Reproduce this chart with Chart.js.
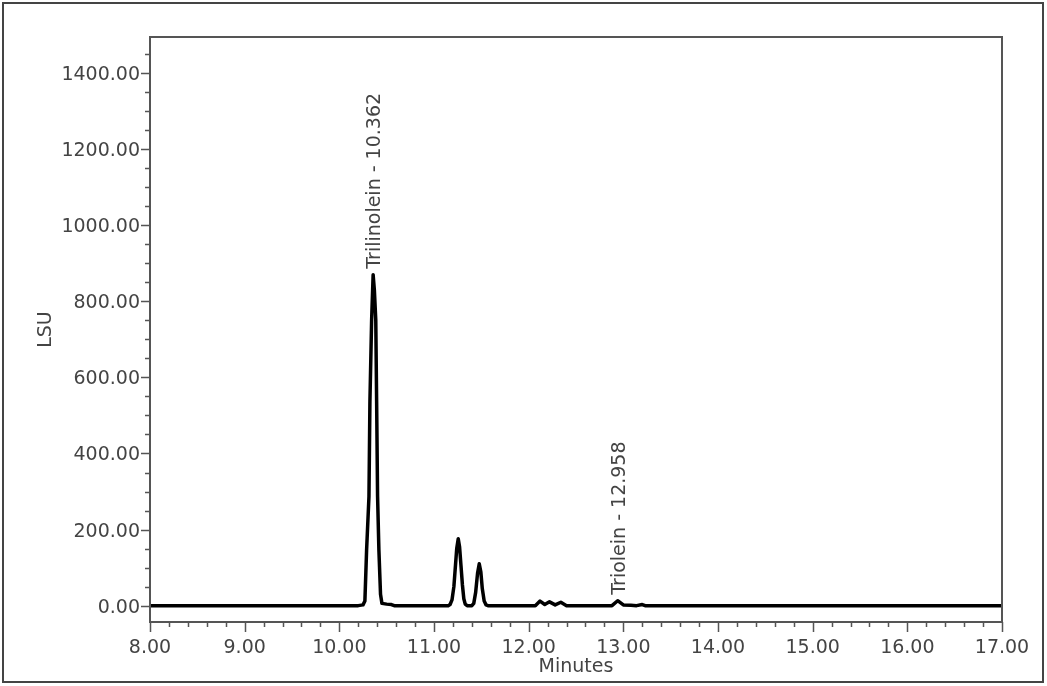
<!DOCTYPE html>
<html>
<head>
<meta charset="utf-8">
<script src="https://cdn.jsdelivr.net/npm/chart.js@4.4.1/dist/chart.umd.min.js"></script>
<style>
  html, body { margin: 0; padding: 0; background: #fff; }
  #wrap { position: relative; width: 1047px; height: 686px; }
</style>
</head>
<body>
<div id="wrap"><canvas id="c"></canvas></div>
<script>
// ---- data ----
const times  = [8.00, 10.20, 10.25, 10.27, 10.288, 10.313, 10.323, 10.341, 10.357, 10.37, 10.385, 10.394, 10.404, 10.418, 10.435, 10.45, 10.50, 10.55, 10.58,
                11.15, 11.17, 11.19, 11.21, 11.225, 11.24, 11.256, 11.27, 11.285, 11.30, 11.315, 11.33, 11.35,
                11.40, 11.42, 11.44, 11.46, 11.478, 11.495, 11.51, 11.53, 11.55, 11.57,
                12.07, 12.12, 12.17, 12.22, 12.28, 12.34, 12.40,
                12.88, 12.94, 13.00, 13.08, 13.14, 13.20, 13.23, 17.00];
const signal = [0, 0, 2, 12, 146, 287, 536, 750, 870, 830, 750, 536, 287, 146, 30, 6, 4, 3, 0,
                0, 3, 15, 50, 100, 150, 176, 155, 105, 55, 18, 4, 0,
                0, 6, 35, 85, 110, 88, 45, 12, 2, 0,
                0, 12, 3, 10, 2, 9, 0,
                0, 13, 2, 1, 0, 3, 0, 0];

const peakNames  = ["Trilinolein - 10.362", "Triolein - 12.958"];
const peakTimes  = [10.362, 12.958];
const peakLevels = [870, 13];

const yMajorTicks = [0, 200, 400, 600, 800, 1000, 1200, 1400];
const xMajorTicks = [8, 9, 10, 11, 12, 13, 14, 15, 16, 17];
const yMinorStep = 50;
const xMinorStep = 0.2;

const FONT = "'DejaVu Sans', Verdana, sans-serif";
const FS = 19;
const TXT = '#444';
const AX = '#555';

const decor = {
  id: 'decor',
  afterDraw(chart) {
    const ctx = chart.ctx;
    const a = chart.chartArea;
    const xs = chart.scales.x, ys = chart.scales.y;
    ctx.save();
    // outer border
    ctx.strokeStyle = '#444';
    ctx.lineWidth = 2;
    ctx.strokeRect(3, 3, 1040, 679);
    // plot frame
    ctx.strokeStyle = AX;
    ctx.lineWidth = 2;
    ctx.strokeRect(a.left, a.top, a.right - a.left, a.bottom - a.top);
    // y ticks
    ctx.lineWidth = 1.5;
    ctx.beginPath();
    for (let v = 0; v <= ys.max + 1e-6; v += yMinorStep) {
      const p = Math.round(ys.getPixelForValue(v)) + 0.5;
      if (p <= a.top + 1) continue;
      const len = yMajorTicks.includes(v) ? 9 : 5;
      ctx.moveTo(a.left - len, p);
      ctx.lineTo(a.left, p);
    }
    // x ticks
    const n = Math.round((xs.max - xs.min) / xMinorStep);
    for (let i = 0; i <= n; i++) {
      const v = xs.min + i * xMinorStep;
      const p = Math.round(xs.getPixelForValue(v)) + 0.5;
      const major = xMajorTicks.some(t => Math.abs(t - v) < 1e-6);
      const len = major ? 10 : 5;
      ctx.moveTo(p, a.bottom);
      ctx.lineTo(p, a.bottom + len);
    }
    ctx.stroke();
    // peak labels
    ctx.fillStyle = TXT;
    ctx.font = FS + 'px ' + FONT;
    ctx.textAlign = 'left';
    ctx.textBaseline = 'middle';
    peakNames.forEach((name, i) => {
      const px = xs.getPixelForValue(peakTimes[i]);
      const py = ys.getPixelForValue(peakLevels[i]);
      ctx.save();
      ctx.translate(px + 1, py - 6);
      ctx.rotate(-Math.PI / 2);
      ctx.fillText(name, 0, 0);
      ctx.restore();
    });
    ctx.restore();
  }
};

new Chart(document.getElementById('c'), {
  type: 'line',
  data: {
    datasets: [{
      data: times.map((t, i) => ({ x: t, y: signal[i] })),
      borderColor: '#000',
      borderWidth: 3.5,
      borderJoinStyle: 'round',
      pointRadius: 0,
      tension: 0,
      fill: false
    }]
  },
  options: {
    responsive: true,
    maintainAspectRatio: false,
    animation: false,
    layout: { padding: { top: 37, right: 45, left: 0, bottom: 0 } },
    plugins: { legend: { display: false }, tooltip: { enabled: false } },
    scales: {
      x: {
        type: 'linear',
        min: 8, max: 17,
        afterBuildTicks: s => { s.ticks = xMajorTicks.map(v => ({ value: v })); },
        afterFit: s => { s.height = 64; },
        grid: { display: false, drawTicks: false },
        border: { display: false },
        ticks: {
          autoSkip: false, maxRotation: 0,
          padding: 15,
          color: TXT,
          font: { family: FONT, size: FS },
          callback: v => Number(v).toFixed(2)
        },
        title: {
          display: true, text: 'Minutes', color: TXT,
          font: { family: FONT, size: FS },
          padding: { top: 0, bottom: 8 }
        }
      },
      y: {
        type: 'linear',
        min: -43, max: 1495,
        afterBuildTicks: s => { s.ticks = yMajorTicks.map(v => ({ value: v })); },
        afterFit: s => { s.width = 150; },
        grid: { display: false, drawTicks: false },
        border: { display: false },
        ticks: {
          autoSkip: false,
          padding: 10,
          labelOffset: 2,
          color: TXT,
          font: { family: FONT, size: FS },
          callback: v => Number(v).toFixed(2)
        },
        title: {
          display: true, text: 'LSU', color: TXT,
          font: { family: FONT, size: FS },
          padding: { top: 35, bottom: 0 }
        }
      }
    }
  },
  plugins: [decor]
});
</script>
</body>
</html>
